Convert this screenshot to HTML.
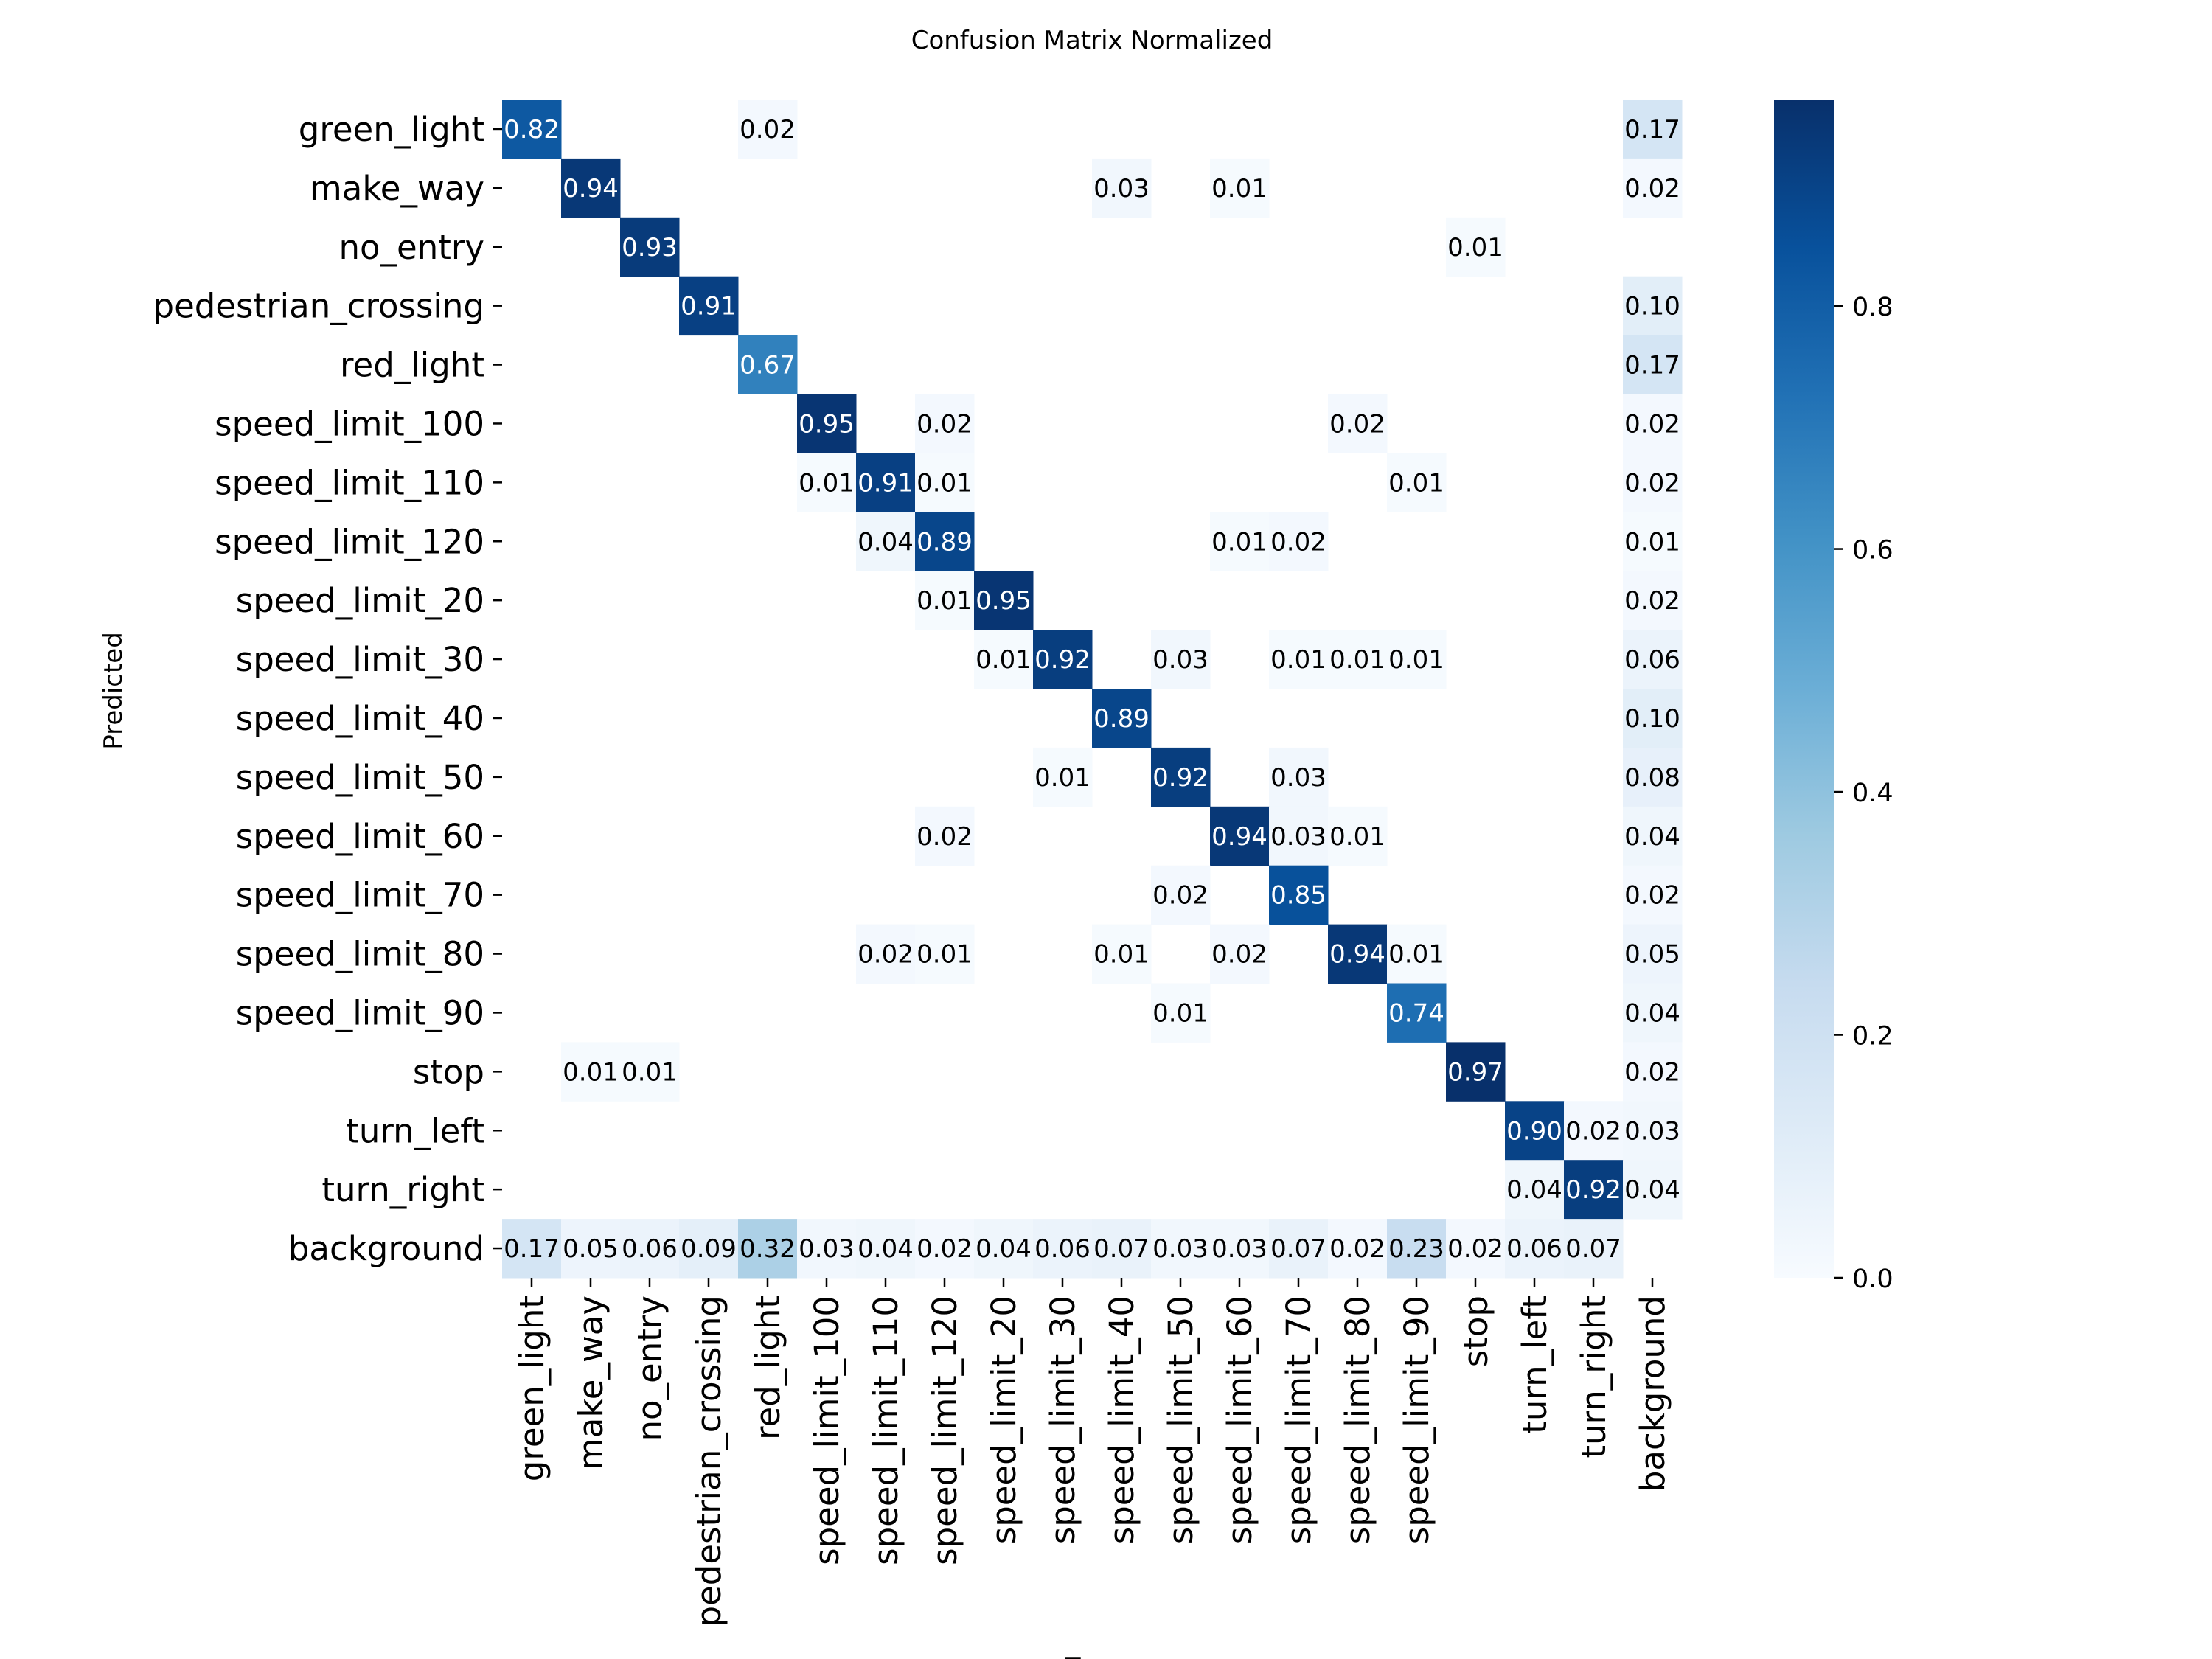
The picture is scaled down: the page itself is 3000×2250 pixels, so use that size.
<!DOCTYPE html>
<html><head><meta charset="utf-8"><style>
html,body{margin:0;padding:0;background:#fff;}
svg{display:block;font-family:"DejaVu Sans","Liberation Sans",sans-serif;}
</style></head><body>
<svg id="chart" width="3000" height="2250" viewBox="0 0 3000 2250" xmlns="http://www.w3.org/2000/svg">
<defs><linearGradient id="cbg" x1="0" y1="1" x2="0" y2="0">
<stop offset="0" stop-color="#f7fbff"/><stop offset="0.125" stop-color="#deebf7"/><stop offset="0.25" stop-color="#c6dbef"/><stop offset="0.375" stop-color="#9ecae1"/><stop offset="0.5" stop-color="#6baed6"/><stop offset="0.625" stop-color="#4292c6"/><stop offset="0.75" stop-color="#2171b5"/><stop offset="0.875" stop-color="#08519c"/><stop offset="1" stop-color="#08306b"/>
</linearGradient></defs>
<text x="1481" y="66" font-size="34" text-anchor="middle">Confusion Matrix Normalized</text>
<text x="0" y="0" font-size="34" text-anchor="middle" transform="translate(165,937) rotate(-90)">Predicted</text>
<text x="1481" y="2272" font-size="34" text-anchor="middle">True</text>
<g id="cells"></g>
<g id="ylabels"></g>
<g id="xlabels"></g>
<rect x="2406" y="135" width="81" height="1598" fill="url(#cbg)"/>
<g id="cbticks"></g>
</svg>
<script>
const classes = ["green_light","make_way","no_entry","pedestrian_crossing","red_light","speed_limit_100","speed_limit_110","speed_limit_120","speed_limit_20","speed_limit_30","speed_limit_40","speed_limit_50","speed_limit_60","speed_limit_70","speed_limit_80","speed_limit_90","stop","turn_left","turn_right","background"];
// rows = predicted, columns = true
const row0  = [0.82,0,0,0,0.02,0,0,0,0,0,0,0,0,0,0,0,0,0,0,0.17];
const row1  = [0,0.94,0,0,0,0,0,0,0,0,0.03,0,0.01,0,0,0,0,0,0,0.02];
const row2  = [0,0,0.93,0,0,0,0,0,0,0,0,0,0,0,0,0,0.01,0,0,0];
const row3  = [0,0,0,0.91,0,0,0,0,0,0,0,0,0,0,0,0,0,0,0,0.10];
const row4  = [0,0,0,0,0.67,0,0,0,0,0,0,0,0,0,0,0,0,0,0,0.17];
const row5  = [0,0,0,0,0,0.95,0,0.02,0,0,0,0,0,0,0.02,0,0,0,0,0.02];
const row6  = [0,0,0,0,0,0.01,0.91,0.01,0,0,0,0,0,0,0,0.01,0,0,0,0.02];
const row7  = [0,0,0,0,0,0,0.04,0.89,0,0,0,0,0.01,0.02,0,0,0,0,0,0.01];
const row8  = [0,0,0,0,0,0,0,0.01,0.95,0,0,0,0,0,0,0,0,0,0,0.02];
const row9  = [0,0,0,0,0,0,0,0,0.01,0.92,0,0.03,0,0.01,0.01,0.01,0,0,0,0.06];
const row10 = [0,0,0,0,0,0,0,0,0,0,0.89,0,0,0,0,0,0,0,0,0.10];
const row11 = [0,0,0,0,0,0,0,0,0,0.01,0,0.92,0,0.03,0,0,0,0,0,0.08];
const row12 = [0,0,0,0,0,0,0,0.02,0,0,0,0,0.94,0.03,0.01,0,0,0,0,0.04];
const row13 = [0,0,0,0,0,0,0,0,0,0,0,0.02,0,0.85,0,0,0,0,0,0.02];
const row14 = [0,0,0,0,0,0,0.02,0.01,0,0,0.01,0,0.02,0,0.94,0.01,0,0,0,0.05];
const row15 = [0,0,0,0,0,0,0,0,0,0,0,0.01,0,0,0,0.74,0,0,0,0.04];
const row16 = [0,0.01,0.01,0,0,0,0,0,0,0,0,0,0,0,0,0,0.97,0,0,0.02];
const row17 = [0,0,0,0,0,0,0,0,0,0,0,0,0,0,0,0,0,0.90,0.02,0.03];
const row18 = [0,0,0,0,0,0,0,0,0,0,0,0,0,0,0,0,0,0.04,0.92,0.04];
const row19 = [0.17,0.05,0.06,0.09,0.32,0.03,0.04,0.02,0.04,0.06,0.07,0.03,0.03,0.07,0.02,0.23,0.02,0.06,0.07,0];
const matrix = [row0,row1,row2,row3,row4,row5,row6,row7,row8,row9,row10,row11,row12,row13,row14,row15,row16,row17,row18,row19];
const cbTicks = [0.0,0.2,0.4,0.6,0.8];
const cbTickLabels = ["0.0","0.2","0.4","0.6","0.8"];

const NS="http://www.w3.org/2000/svg";
const L=681,T=135,W=1600,H=1598;
const n=classes.length;
const cw=W/n, ch=H/n;
let vmax=0; matrix.forEach(r=>r.forEach(v=>{if(v>vmax)vmax=v;}));
const xs=i=>L+i*cw, ys=j=>T+j*ch;
const cy=v=>T+H-v/vmax*H;
const stops=[[247,251,255],[222,235,247],[198,219,239],[158,202,225],[107,174,214],[66,146,198],[33,113,181],[8,81,156],[8,48,107]];
function cmap(t){t=Math.max(0,Math.min(1,t));const p=t*8,i=Math.min(7,Math.floor(p)),f=p-i;
 return stops[i].map((c,k)=>Math.round(c+(stops[i+1][k]-c)*f));}
function lum(c){const l=c.map(x=>{x/=255;return x<=0.03928?x/12.92:Math.pow((x+0.055)/1.055,2.4);});return 0.2126*l[0]+0.7152*l[1]+0.0722*l[2];}
function mk(tag,attrs,parent){const e=document.createElementNS(NS,tag);for(const k in attrs)e.setAttribute(k,attrs[k]);parent.appendChild(e);return e;}
const gc=document.getElementById('cells');
matrix.forEach((r,j)=>r.forEach((v,i)=>{
 if(v<0.005)return;
 const c=cmap(v/vmax);
 const rc=mk('rect',{x:xs(i),y:ys(j),width:cw+0.5,height:ch+0.5,fill:`rgb(${c})`},gc);
 
 
}));
matrix.forEach((r,j)=>r.forEach((v,i)=>{
 if(v<0.005)return;
 const c=cmap(v/vmax);
 const t=mk('text',{x:xs(i)+cw/2,y:ys(j)+ch/2+12,'font-size':34,'text-anchor':'middle',fill:lum(c)>0.408?'#000':'#fff'},gc);
 
 
 t.textContent=v.toFixed(2);
}));
const gy=document.getElementById('ylabels'), gx=document.getElementById('xlabels');
classes.forEach((c,j)=>{
 const y=ys(j)+ch/2;
 mk('line',{x1:L-12,x2:L,y1:y,y2:y,stroke:'#000','stroke-width':2.5},gy);
 const t=mk('text',{x:L-24,y:y+16,'font-size':45,'text-anchor':'end'},gy);
 
 
 t.textContent=c;
});
classes.forEach((c,i)=>{
 const x=xs(i)+cw/2;
 mk('line',{x1:x,x2:x,y1:T+H,y2:T+H+12,stroke:'#000','stroke-width':2.5},gx);
 const t=mk('text',{x:0,y:0,'font-size':45,'text-anchor':'end',transform:`translate(${x+16},${T+H+24}) rotate(-90)`},gx);
 
 
 t.textContent=c;
});
const gt=document.getElementById('cbticks');
cbTicks.forEach((v,k)=>{
 const y=cy(v);
 mk('line',{x1:2487,x2:2499,y1:y,y2:y,stroke:'#000','stroke-width':2.5},gt);
 const t=mk('text',{x:2512,y:y+13,'font-size':35},gt);
 
 
 t.textContent=cbTickLabels[k];
});
</script>
</body></html>
